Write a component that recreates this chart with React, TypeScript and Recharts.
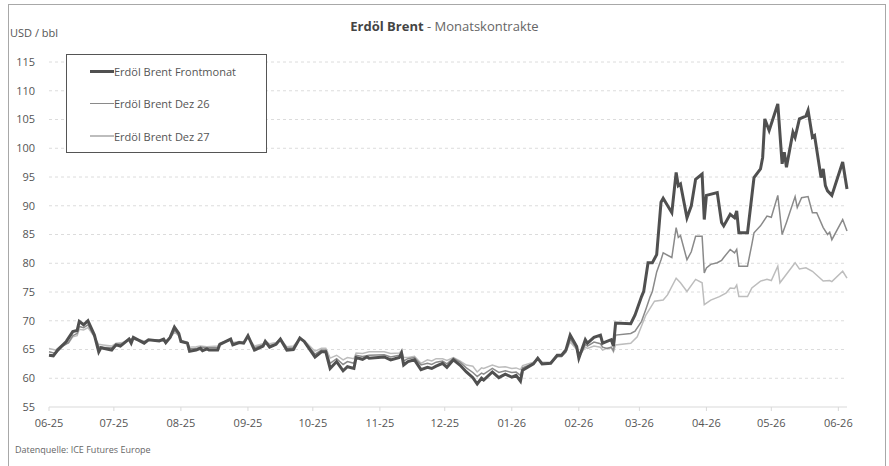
import { LineChart, Line, XAxis, YAxis, CartesianGrid } from 'recharts'

// days counted from 01.06.2025
const monthTicks = [0, 30, 61, 92, 122, 153, 183, 214, 245, 273, 304, 334, 365]
const monthLabels = ['06-25', '07-25', '08-25', '09-25', '10-25', '11-25', '12-25', '01-26', '02-26', '03-26', '04-26', '05-26', '06-26']
const priceTicks = [55, 60, 65, 70, 75, 80, 85, 90, 95, 100, 105, 110, 115]

const frontDays = [
  0, 2, 4, 8, 11, 13, 14, 16, 18, 21, 23, 24, 29, 31, 33, 37, 38, 39, 44, 46, 51, 53, 54, 56, 58, 60, 61, 64, 65, 68,
  70, 71, 73, 74, 78, 79, 84, 85, 88, 90, 92, 95, 99, 100, 102, 105, 107, 110, 113, 116, 118, 123, 126, 128, 130, 133, 136, 138, 141, 142,
  145, 147, 148, 155, 158, 162, 163, 164, 166, 169, 172, 175, 177, 179, 182, 184, 187, 190, 193, 196, 198, 200, 201, 205, 208, 211, 214, 216, 218, 219,
  224, 226, 228, 232, 235, 237, 239, 241, 244, 245, 248, 249, 252, 255, 256, 258, 260, 261, 262, 269, 271, 274, 275, 277, 279, 281, 283, 284, 288, 290,
  291, 292, 295, 297, 299, 302, 303, 304, 309, 311, 312, 315, 317, 318, 319, 323, 325, 326, 329, 330, 331, 333, 337, 339, 340, 341, 344, 345, 347, 350,
  351, 353, 354, 357, 358, 359, 360, 362, 367, 369,
]
const frontPrices = [
  64.0, 63.9, 64.9, 66.4, 68.1, 68.3, 69.9, 69.3, 70.0, 67.5, 64.6, 65.3, 64.9, 65.8, 65.6, 66.8, 66.1, 67.1, 66.1, 66.7, 66.5, 66.8, 66.2, 67.1, 68.9, 67.8, 66.4, 66.1, 64.7, 64.9,
  65.2, 64.8, 65.1, 64.9, 64.9, 65.9, 66.8, 65.8, 66.2, 66.1, 67.4, 64.9, 65.6, 66.4, 65.4, 65.9, 66.8, 64.9, 65.0, 67.0, 66.4, 63.7, 64.6, 64.6, 61.7, 62.9, 61.3, 62.0, 61.7, 63.6,
  63.3, 63.7, 63.5, 63.7, 63.2, 63.6, 64.4, 62.3, 62.9, 63.2, 61.5, 61.9, 61.7, 62.1, 62.6, 61.9, 63.2, 62.3, 61.1, 60.1, 59.0, 60.0, 59.7, 61.1, 60.1, 60.7, 60.2, 60.5, 59.5, 61.4,
  62.5, 63.5, 62.5, 62.6, 64.0, 64.0, 64.9, 67.5, 65.5, 63.5, 66.7, 66.1, 67.1, 67.5, 66.1, 66.4, 66.7, 65.6, 69.6, 69.5, 71.0, 74.2, 75.1, 80.1, 80.1, 81.5, 90.6, 91.3, 88.8, 95.8,
  93.5, 93.8, 87.9, 90.0, 94.6, 95.5, 87.6, 91.8, 92.3, 87.1, 86.5, 88.5, 87.9, 89.1, 85.3, 85.3, 91.7, 94.9, 96.4, 98.4, 105.1, 103.1, 107.7, 97.3, 99.3, 96.7, 102.8, 101.9, 105.1, 105.6,
  106.6, 101.9, 102.2, 94.9, 96.4, 93.5, 92.6, 91.8, 97.6, 92.9,
]

const dez26Days = [
  0, 3, 6, 9, 11, 13, 14, 16, 18, 21, 23, 25, 29, 31, 34, 37, 39, 44, 46, 51, 54, 56, 58, 60, 61, 64, 65, 68, 70, 73,
  78, 79, 84, 85, 88, 90, 92, 95, 99, 100, 102, 105, 107, 110, 113, 116, 118, 123, 126, 128, 130, 133, 136, 138, 141, 142, 145, 148, 155, 158,
  162, 163, 164, 166, 169, 172, 175, 177, 179, 182, 184, 187, 190, 193, 196, 198, 200, 201, 205, 208, 211, 214, 216, 218, 219, 224, 226, 228, 232, 235,
  237, 239, 241, 244, 245, 248, 249, 252, 255, 256, 258, 260, 261, 262, 269, 271, 274, 276, 278, 279, 281, 283, 284, 288, 290, 291, 292, 295, 297, 299,
  302, 303, 304, 306, 309, 311, 312, 315, 317, 318, 319, 323, 325, 326, 329, 332, 334, 337, 339, 341, 345, 346, 348, 351, 353, 355, 358, 360, 361, 362,
  367, 369,
]
const dez26Prices = [
  64.6, 64.3, 65.5, 66.2, 67.4, 67.8, 69.0, 68.8, 69.3, 67.3, 65.5, 65.4, 65.3, 65.9, 66.0, 66.8, 66.8, 66.3, 66.6, 66.6, 66.4, 67.0, 68.3, 67.6, 66.5, 66.2, 65.1, 65.2, 65.4, 65.3,
  65.3, 66.0, 66.7, 66.0, 66.3, 66.2, 67.2, 65.3, 65.8, 66.4, 65.7, 66.0, 66.8, 65.2, 65.3, 66.9, 66.5, 64.2, 64.9, 64.9, 62.6, 63.4, 62.4, 62.9, 62.6, 64.0, 63.8, 64.0, 64.1, 63.7,
  64.0, 64.5, 63.0, 63.4, 63.6, 62.3, 62.6, 62.4, 62.8, 63.0, 62.5, 63.5, 62.8, 61.8, 61.0, 60.3, 60.9, 60.7, 61.7, 61.0, 61.3, 61.0, 61.1, 60.5, 61.8, 62.6, 63.4, 62.6, 62.6, 63.8,
  63.8, 64.6, 66.8, 65.2, 63.6, 65.9, 65.6, 66.3, 66.0, 65.4, 65.2, 65.4, 64.8, 67.5, 67.8, 68.2, 69.9, 72.0, 74.2, 75.1, 78.5, 80.6, 81.8, 81.0, 86.2, 84.5, 84.8, 80.6, 82.0, 84.7,
  84.7, 78.3, 79.2, 79.8, 80.1, 80.5, 81.0, 82.4, 81.8, 82.4, 79.5, 79.5, 83.3, 85.3, 86.5, 88.2, 88.0, 91.8, 85.0, 87.1, 91.6, 89.7, 91.4, 91.6, 88.8, 88.8, 86.2, 85.0, 85.4, 84.1,
  87.6, 85.6,
]

const dez27Days = [
  0, 3, 6, 9, 11, 13, 14, 16, 18, 21, 23, 25, 29, 31, 34, 37, 39, 44, 46, 51, 54, 56, 58, 60, 61, 64, 65, 68, 70, 73,
  78, 79, 84, 85, 88, 90, 92, 95, 99, 100, 102, 105, 107, 110, 113, 116, 118, 123, 126, 128, 130, 133, 136, 138, 141, 142, 145, 148, 155, 158,
  162, 163, 164, 166, 169, 172, 175, 177, 179, 182, 184, 187, 190, 193, 196, 198, 200, 201, 205, 208, 211, 214, 216, 218, 219, 224, 226, 228, 232, 235,
  237, 239, 241, 244, 245, 248, 249, 252, 255, 256, 258, 260, 261, 262, 269, 272, 276, 280, 284, 286, 290, 292, 295, 299, 302, 303, 306, 310, 313, 315,
  317, 318, 319, 323, 325, 329, 332, 334, 337, 338, 345, 347, 350, 353, 358, 361, 362, 367, 369,
]
const dez27Prices = [
  65.2, 64.9, 65.8, 66.1, 67.2, 67.4, 68.5, 68.4, 68.8, 67.2, 65.9, 65.8, 65.6, 66.1, 66.2, 66.8, 66.9, 66.5, 66.7, 66.7, 66.5, 67.0, 68.0, 67.4, 66.6, 66.3, 65.4, 65.5, 65.6, 65.5,
  65.6, 66.1, 66.7, 66.2, 66.4, 66.3, 67.1, 65.6, 66.0, 66.5, 66.0, 66.2, 66.8, 65.5, 65.6, 66.9, 66.6, 64.7, 65.2, 65.2, 63.5, 64.0, 63.2, 63.6, 63.4, 64.4, 64.3, 64.6, 64.6, 64.3,
  64.4, 64.8, 63.6, 63.6, 63.8, 62.6, 63.2, 63.0, 63.4, 63.4, 63.1, 63.6, 63.0, 62.3, 62.1, 61.1, 61.8, 61.7, 62.3, 61.9, 62.0, 61.7, 61.8, 61.5, 62.2, 62.8, 63.4, 62.8, 62.8, 63.8,
  63.8, 64.5, 66.3, 65.0, 63.8, 65.4, 65.2, 65.6, 65.4, 64.9, 65.2, 65.3, 64.6, 65.8, 66.1, 67.2, 71.0, 73.4, 73.6, 74.5, 77.4, 76.6, 75.1, 77.2, 76.6, 72.8, 73.6, 74.2, 74.8, 75.7,
  75.6, 76.2, 74.2, 74.2, 75.7, 76.9, 77.2, 77.0, 79.5, 76.6, 80.1, 79.0, 79.2, 78.6, 76.9, 77.0, 76.8, 78.6, 77.4,
]

const toPoints = (days: number[], prices: number[]) => days.map((day, i) => ({ day, price: prices[i] }))

const series = [
  { name: 'Erdöl Brent Dez 27', data: toPoints(dez27Days, dez27Prices), color: '#bdbdbd', width: 1.5 },
  { name: 'Erdöl Brent Dez 26', data: toPoints(dez26Days, dez26Prices), color: '#8a8a8a', width: 1.5 },
  { name: 'Erdöl Brent Frontmonat', data: toPoints(frontDays, frontPrices), color: '#505050', width: 3 },
]
const legendOrder = [...series].reverse()

const font = '"Open Sans", sans-serif'
const textColor = '#555'

export default function App() {
  return (
    <div style={{ position: 'absolute', left: 0, top: 0, width: 889, height: 466, background: '#fff', fontFamily: font, overflow: 'hidden' }}>
      <div style={{ position: 'absolute', left: 8, top: 4, width: 876, height: 470, border: '1px solid #a8a8a8' }} />
      <div style={{ position: 'absolute', left: 0, width: 889, top: 17, textAlign: 'center', fontSize: 13, color: '#444' }}>
        <b>Erdöl Brent</b>
        <span style={{ color: '#666' }}> - Monatskontrakte</span>
      </div>
      <div style={{ position: 'absolute', left: 10, top: 25, fontSize: 11, color: textColor }}>USD / bbl</div>

      <LineChart width={889} height={466} margin={{ top: 62, right: 42, bottom: 29, left: 9 }} style={{ position: 'absolute', left: 0, top: 0 }}>
        <CartesianGrid vertical={false} stroke="#dcdcdc" strokeDasharray="3 3" horizontalValues={priceTicks.slice(1)} />
        <XAxis
          type="number"
          dataKey="day"
          domain={[0, 369]}
          ticks={monthTicks}
          tickFormatter={(v: number) => monthLabels[monthTicks.indexOf(v)]}
          tick={{ fontSize: 11, fill: textColor, fontFamily: font }}
          stroke="#d9d9d9"
          tickSize={4}
          tickMargin={8}
          allowDuplicatedCategory={false}
        />
        <YAxis
          type="number"
          domain={[55, 115]}
          ticks={priceTicks}
          axisLine={false}
          tickLine={false}
          width={40}
          tickMargin={8}
          tick={{ fontSize: 11, fill: textColor, fontFamily: font }}
        />
        {series.map((s) => (
          <Line
            key={s.name}
            data={s.data}
            dataKey="price"
            name={s.name}
            type="linear"
            stroke={s.color}
            strokeWidth={s.width}
            dot={false}
            activeDot={false}
            isAnimationActive={false}
          />
        ))}
      </LineChart>

      <div style={{ position: 'absolute', left: 66, top: 54, width: 199, height: 97, border: '1px solid #555', background: '#fff' }}>
        {legendOrder.map((s, i) => (
          <div key={s.name} style={{ position: 'absolute', left: 23, top: 8 + i * 32.5, height: 16, display: 'flex', alignItems: 'center', fontSize: 11, color: textColor }}>
            <span style={{ display: 'inline-block', width: 24, height: s.width === 3 ? 3 : 1.5, background: s.color }} />
            <span>{s.name}</span>
          </div>
        ))}
      </div>

      <div style={{ position: 'absolute', left: 15, top: 443, fontSize: 9, color: '#666' }}>Datenquelle: ICE Futures Europe</div>
    </div>
  )
}
